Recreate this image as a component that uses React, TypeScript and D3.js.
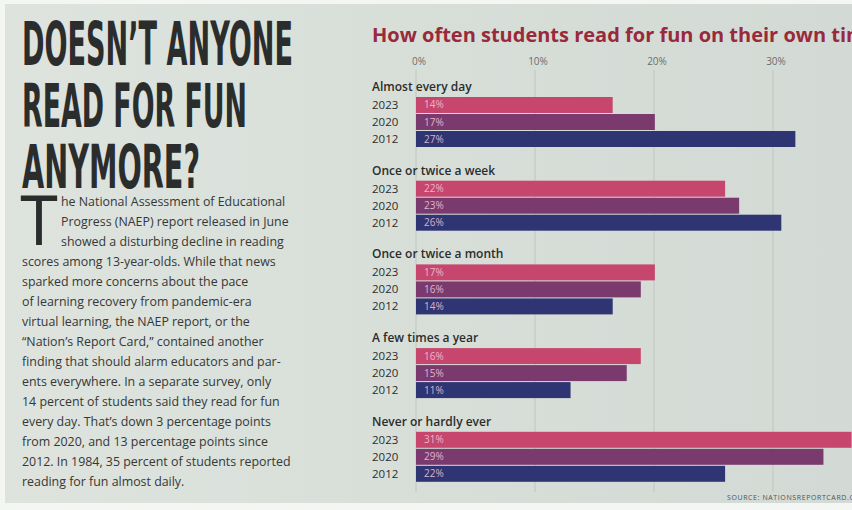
import React from "react";
import * as d3 from "d3";

const categories = [
  "Almost every day",
  "Once or twice a week",
  "Once or twice a month",
  "A few times a year",
  "Never or hardly ever",
];
const years = ["2023", "2020", "2012"];
const values2023 = [14, 22, 17, 16, 31];
const values2020 = [17, 23, 16, 15, 29];
const values2012 = [27, 26, 14, 11, 22];
const tickValues = [0, 10, 20, 30];

const headline = ["DOESN\u2019T ANYONE", "READ FOR FUN", "ANYMORE?"];
const bodyLines = [
  "he National Assessment of Educational",
  "Progress (NAEP) report released in June",
  "showed a disturbing decline in reading",
  "scores among 13-year-olds. While that news",
  "sparked more concerns about the pace",
  "of learning recovery from pandemic-era",
  "virtual learning, the NAEP report, or the",
  "\u201cNation\u2019s Report Card,\u201d contained another",
  "finding that should alarm educators and par-",
  "ents everywhere. In a separate survey, only",
  "14 percent of students said they read for fun",
  "every day. That\u2019s down 3 percentage points",
  "from 2020, and 13 percentage points since",
  "2012. In 1984, 35 percent of students reported",
  "reading for fun almost daily.",
];
const headlineWidths = [271, 225, 178];

const W = 852;
const H = 510;

export default function App() {
  const seriesByYear: Record<string, number[]> = {
    "2023": values2023,
    "2020": values2020,
    "2012": values2012,
  };
  const colors: Record<string, string> = {
    "2023": "#c6466e",
    "2020": "#7a3a6d",
    "2012": "#2f3472",
  };

  // bar lengths (as printed) and the printed axis grid
  const barX = d3.scaleLinear().domain([0, 30]).range([416, 837.5]);
  const axisX = d3.scaleLinear().domain([0, 30]).range([416, 773]);

  const groupY = d3.scaleBand().domain(categories).range([80.5, 499]);
  const yearY = d3.scaleBand().domain(years).range([0, 50]).paddingInner(0.06);

  const font = "'Open Sans', 'Noto Sans', sans-serif";

  return (
    <svg
      width={W}
      height={H}
      viewBox={`0 0 ${W} ${H}`}
      style={{ position: "absolute", left: 0, top: 0, display: "block" }}
    >
      <defs>
        <linearGradient id="paper" x1="0" y1="0" x2="1" y2="0">
          <stop offset="0" stopColor="#dee3de" />
          <stop offset="0.45" stopColor="#d8dfd9" />
          <stop offset="1" stopColor="#d3dad5" />
        </linearGradient>
      </defs>
      <rect x={0} y={0} width={W} height={H} fill="#f4f6f4" />
      <rect x={5} y={4} width={W - 5} height={H - 11} fill="url(#paper)" />

      {/* Headline */}
      <g fill="#2b2d2c" fontFamily="'DejaVu Sans Condensed', 'DejaVu Sans', sans-serif" fontWeight={700}>
        {headline.map((line, i) => (
          <text
            key={line}
            x={22}
            y={65 + i * 61.5}
            fontSize={60}
            textLength={headlineWidths[i]}
            lengthAdjust="spacingAndGlyphs"
          >
            {line}
          </text>
        ))}
      </g>

      {/* Drop cap */}
      <text
        x={21}
        y={245}
        fontFamily="'DejaVu Sans', sans-serif"
        fontSize={67}
        fill="#2b2d2c"
        textLength={36}
        lengthAdjust="spacingAndGlyphs"
      >
        T
      </text>

      {/* Body text */}
      <g fill="#353836" fontFamily={font} fontSize={12.4}>
        {bodyLines.map((line, i) => (
          <text key={i} x={i < 3 ? 61 : 22} y={206 + i * 20}>
            {line}
          </text>
        ))}
      </g>

      {/* Chart title */}
      <text
        x={372}
        y={42}
        fontFamily={font}
        fontWeight={700}
        fontSize={20}
        fill="#982a3b"
      >
        How often students read for fun on their own time
      </text>

      {/* Grid lines */}
      <g stroke="#c3cac4" strokeWidth={1.2}>
        {tickValues.map((t) => (
          <line key={t} x1={axisX(t)} x2={axisX(t)} y1={70} y2={492} />
        ))}
      </g>

      {/* Tick labels */}
      <g fill="#6a6e6c" fontFamily={font} fontSize={10} textAnchor="middle">
        {tickValues.map((t) => (
          <text key={t} x={axisX(t) + 3} y={65}>
            {`${t}%`}
          </text>
        ))}
      </g>

      {/* Groups */}
      {categories.map((cat, ci) => {
        const gy = groupY(cat)!;
        return (
          <g key={cat}>
            <text
              x={372}
              y={gy + 10.5}
              fontFamily={font}
              fontSize={12}
              fontWeight={600}
              fill="#2b2d2c"
            >
              {cat}
            </text>
            {years.map((yr) => {
              const y = gy + 16.5 + yearY(yr)!;
              const h = yearY.bandwidth();
              const v = seriesByYear[yr][ci];
              return (
                <g key={yr}>
                  <text
                    x={372}
                    y={y + h / 2 + 4}
                    fontFamily={font}
                    fontSize={11.5}
                    fontWeight={500}
                    fill="#2b2d2c"
                  >
                    {yr}
                  </text>
                  <rect
                    x={barX(0)}
                    y={y}
                    width={barX(v) - barX(0)}
                    height={h}
                    fill={colors[yr]}
                  />
                  <text
                    x={barX(0) + 8}
                    y={y + h / 2 + 3.5}
                    fontFamily={font}
                    fontSize={10}
                    fill="#f2c9dc"
                    opacity={0.85}
                  >
                    {`${v}%`}
                  </text>
                </g>
              );
            })}
          </g>
        );
      })}

      {/* Source */}
      <text
        x={727}
        y={500}
        fontFamily={font}
        fontSize={7}
        fill="#4e5351"
        letterSpacing={0.6}
      >
        SOURCE: NATIONSREPORTCARD.GOV
      </text>
    </svg>
  );
}
